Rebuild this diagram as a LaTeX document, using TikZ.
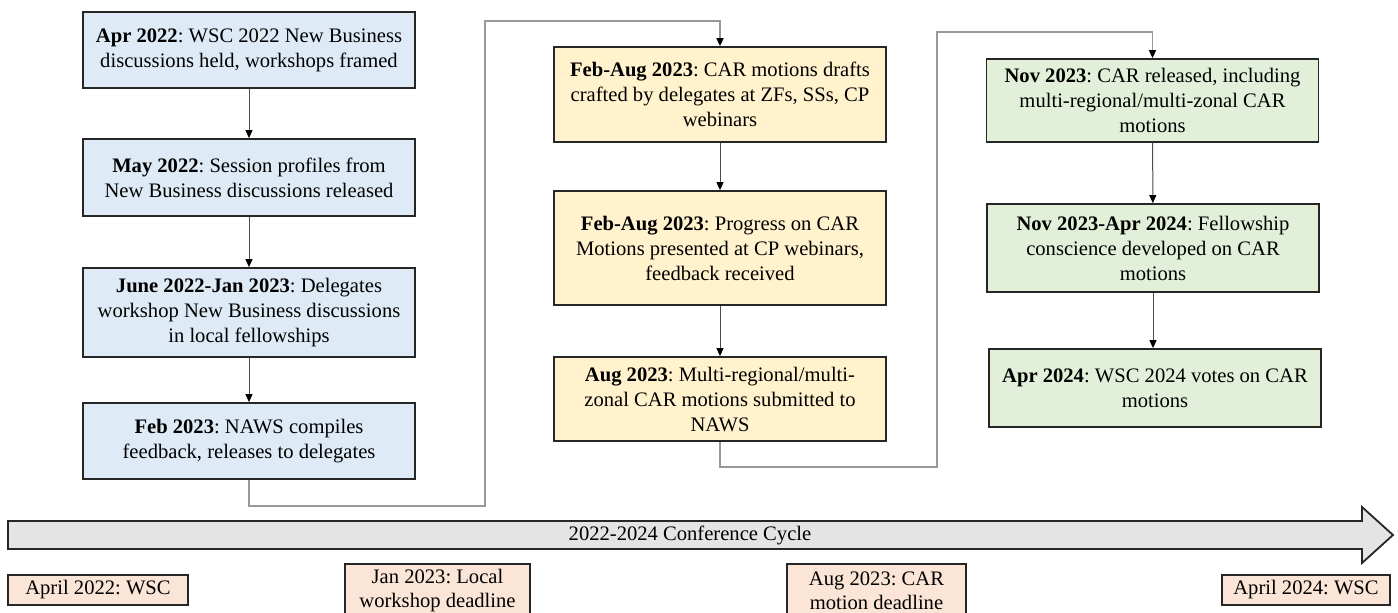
\documentclass[tikz,border=0pt]{standalone}
\usepackage{fontspec}
\setmainfont{Liberation Serif}
\usetikzlibrary{arrows.meta}
\frenchspacing
\definecolor{cardblue}{HTML}{DEEBF7}
\definecolor{cardyellow}{HTML}{FFF2CC}
\definecolor{cardgreen}{HTML}{E2F0D9}
\definecolor{cardpeach}{HTML}{FBE5D6}
\definecolor{cyclegray}{HTML}{E4E4E4}
\tikzset{
  card/.style={draw=black!85,line width=0.9pt,align=center,inner sep=1pt,
    font=\fontsize{10.3}{12.5}\selectfont,minimum width=166pt},
  bluecard/.style={card,fill=cardblue},
  yellowcard/.style={card,fill=cardyellow},
  greencard/.style={card,fill=cardgreen},
  datecard/.style={draw=black!85,line width=0.9pt,fill=cardpeach,align=center,
    inner sep=1pt,font=\fontsize{10.3}{12}\selectfont},
  flow/.style={draw=black!70,line width=0.5pt,-{Triangle[length=4pt,width=3.5pt,color=black]}},
  hop/.style={draw=black!40,line width=0.8pt,-{Triangle[length=4pt,width=3.5pt,color=black]}}
}
\begin{document}
\begin{tikzpicture}[x=0.5pt,y=-0.5pt]
\useasboundingbox (0,0) rectangle (1398,612);
% left column
\node[bluecard,minimum height=38pt] (apr22) at (249,50) {\textbf{Apr 2022}: WSC 2022 New Business\\discussions held, workshops framed};
\node[bluecard,minimum height=38.5pt] (may22) at (249,177.5) {\textbf{May 2022}: Session profiles from\\New Business discussions released};
\node[bluecard,minimum height=44.5pt] (jun22) at (249,312.5) {\textbf{June 2022-Jan 2023}: Delegates\\workshop New Business discussions\\in local fellowships};
\node[bluecard,minimum height=38pt] (feb23) at (249,441) {\textbf{Feb 2023}: NAWS compiles\\feedback, releases to delegates};
% middle column
\node[yellowcard,minimum height=47.5pt] (drafts) at (720,94.5) {\textbf{Feb-Aug 2023}: CAR motions drafts\\crafted by delegates at ZFs, SSs, CP\\webinars};
\node[yellowcard,minimum height=57pt] (progress) at (720,248) {\textbf{Feb-Aug 2023}: Progress on CAR\\Motions presented at CP webinars,\\feedback received};
\node[yellowcard,minimum height=42pt] (aug23) at (720,399) {\textbf{Aug 2023}: Multi-regional/multi-\\zonal CAR motions submitted to\\NAWS};
% right column
\node[greencard,minimum height=41.5pt] (nov23) at (1152.5,100.5) {\textbf{Nov 2023}: CAR released, including\\multi-regional/multi-zonal CAR\\motions};
\node[greencard,minimum height=44pt] (conscience) at (1153,248) {\textbf{Nov 2023-Apr 2024}: Fellowship\\conscience developed on CAR\\motions};
\node[greencard,minimum height=39pt] (apr24) at (1155,388) {\textbf{Apr 2024}: WSC 2024 votes on CAR\\motions};
% arrows in the columns
\draw[flow] (apr22) -- (may22);
\draw[flow] (may22) -- (jun22);
\draw[flow] (jun22) -- (feb23);
\draw[flow] (drafts) -- (progress);
\draw[flow] (progress) -- (aug23);
\draw[flow] (nov23) -- (conscience);
\draw[flow] (conscience.south) -- (apr24.north -| conscience.south);
% hops between the columns
\draw[hop] (feb23.south) -- (249,506) -- (485,506) -- (485,21) -- (720,21) -- (drafts.north);
\draw[hop] (aug23.south) -- (720,467) -- (937,467) -- (937,32) -- (1152.5,32) -- (nov23.north);
% conference cycle
\filldraw[fill=cyclegray,draw=black!85,line width=0.9pt] (8,521) -- (1362,521) -- (1362,507) -- (1393,535) -- (1362,563) -- (1362,549) -- (8,549) -- cycle;
\node[font=\fontsize{10.3}{12.5}\selectfont] (cycle) at (690,535) {2022-2024 Conference Cycle};
% dates
\node[datecard,minimum width=90pt,minimum height=15pt] (wsc22) at (98,590) {April 2022: WSC};
\node[datecard,minimum width=92.5pt,minimum height=27pt] (local) at (437.5,591) {Jan 2023: Local\\workshop deadline};
\node[datecard,minimum width=89.5pt,minimum height=27pt] (cardl) at (876.5,591) {Aug 2023: CAR\\motion deadline};
\node[datecard,minimum width=84pt,minimum height=15pt] (wsc24) at (1306,590) {April 2024: WSC};
\end{tikzpicture}
\end{document}
